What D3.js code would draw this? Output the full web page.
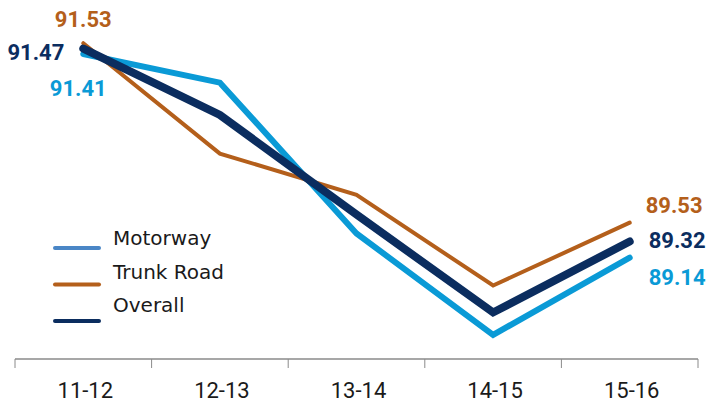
<!DOCTYPE html>
<html lang="en">
<head>
<meta charset="UTF-8">
<title>Motorway / Trunk Road / Overall</title>
<script src="https://d3js.org/d3.v7.min.js"></script>
<style>
    body { margin: 0; background: #fff; }
    #chart { width: 709px; height: 405px; }
    .tick-label { font-family: Roboto, sans-serif; font-size: 22px; fill: #1a1a1a; }
    .legend-label { font-family: "DejaVu Sans", sans-serif; font-size: 20px; fill: #1a1a1a; }
    .value-label { font-family: Roboto, sans-serif; font-size: 22px; font-weight: bold; }
</style>
</head>
<body>
<div id="chart"></div>
<script>
    // data
    const years = ["11-12", "12-13", "13-14", "14-15", "15-16"];
    const motorway = [91.41, 91.09, 89.41, 88.28, 89.14];
    const trunkRoad = [91.53, 90.30, 89.84, 88.83, 89.53];
    const overall = [91.47, 90.73, 89.62, 88.53, 89.32];

    const width = 709, height = 405;

    const svg = d3.select("#chart").append("svg")
        .attr("width", width)
        .attr("height", height);

    const x = d3.scaleBand().domain(years).range([15, 698]);
    const y = d3.scaleLinear().domain([88, 92]).range([360, 1]);
    const cx = d => x(d) + x.bandwidth() / 2;

    // x axis: baseline with ticks at band edges
    const axisY = 359;
    svg.append("line")
        .attr("x1", 15).attr("x2", 698)
        .attr("y1", axisY).attr("y2", axisY)
        .attr("stroke", "#8a8a8a").attr("stroke-width", 1.5);

    const edges = years.map(d => x(d)).concat([x(years[years.length - 1]) + x.bandwidth()]);
    svg.selectAll(".edge").data(edges).enter().append("line")
        .attr("x1", d => d).attr("x2", d => d)
        .attr("y1", axisY).attr("y2", axisY + 9)
        .attr("stroke", "#8a8a8a").attr("stroke-width", 1);

    svg.selectAll(".tick-label").data(years).enter().append("text")
        .attr("class", "tick-label")
        .attr("x", d => cx(d) + 2)
        .attr("y", 398)
        .attr("text-anchor", "middle")
        .text(d => d);

    const series = [
        { name: "Motorway", values: motorway, color: "#0a9ad6", legendColor: "#4a86c6", width: 6 },
        { name: "Trunk Road", values: trunkRoad, color: "#b45f1b", legendColor: "#b45f1b", width: 4 },
        { name: "Overall", values: overall, color: "#0b2d5f", legendColor: "#0b2d5f", width: 8 }
    ];

    const line = d3.line()
        .x((d, i) => cx(years[i]))
        .y(d => y(d));

    svg.selectAll(".series").data(series).enter().append("path")
        .attr("class", "series")
        .attr("d", d => line(d.values))
        .attr("fill", "none")
        .attr("stroke", d => d.color)
        .attr("stroke-width", d => d.width)
        .attr("stroke-linejoin", "miter")
        .attr("stroke-linecap", "round");

    // value labels at both ends
    const labels = [
        { s: series[1], i: 0, dx: 0, dy: -16, anchor: "middle" },
        { s: series[2], i: 0, dx: -19, dy: 11, anchor: "end" },
        { s: series[0], i: 0, dx: -5, dy: 42, anchor: "middle" },
        { s: series[1], i: 4, dx: 16, dy: -10, anchor: "start" },
        { s: series[2], i: 4, dx: 19, dy: 6, anchor: "start" },
        { s: series[0], i: 4, dx: 19, dy: 27, anchor: "start" }
    ];
    svg.selectAll(".value-label").data(labels).enter().append("text")
        .attr("class", "value-label")
        .attr("x", d => cx(years[d.i]) + d.dx)
        .attr("y", d => y(d.s.values[d.i]) + d.dy)
        .attr("text-anchor", d => d.anchor)
        .attr("fill", d => d.s.color)
        .text(d => d.s.values[d.i].toFixed(2));

    // legend: swatch lines and labels are spaced a little differently
    const legend = svg.append("g");
    series.forEach((s, i) => {
        const ly = 248 + i * 36.5;
        legend.append("line")
            .attr("x1", 55).attr("x2", 99)
            .attr("y1", ly).attr("y2", ly)
            .attr("stroke", s.legendColor)
            .attr("stroke-width", 4)
            .attr("stroke-linecap", "round");
        legend.append("text")
            .attr("class", "legend-label")
            .attr("x", 113)
            .attr("y", 245 + i * 33.5)
            .text(s.name);
    });
</script>
</body>
</html>
